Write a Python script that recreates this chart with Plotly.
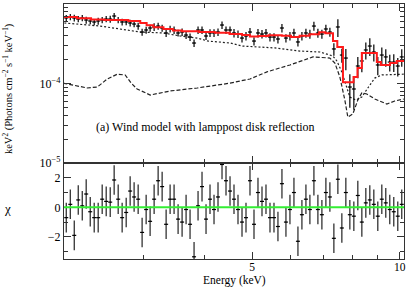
import math
import plotly.graph_objects as go

# ---------------- data ----------------
energy = [2.092, 2.132, 2.172, 2.213, 2.255, 2.297, 2.341, 2.385, 2.430, 2.476,
          2.523, 2.571, 2.619, 2.669, 2.719, 2.771, 2.823, 2.876, 2.931, 2.986,
          3.043, 3.100, 3.159, 3.219, 3.280, 3.342, 3.405, 3.469, 3.535, 3.602,
          3.670, 3.739, 3.810, 3.882, 3.955, 4.030, 4.106, 4.184, 4.263, 4.344,
          4.426, 4.510, 4.595, 4.682, 4.771, 4.861, 4.953, 5.047, 5.142, 5.240,
          5.339, 5.440, 5.543, 5.647, 5.754, 5.863, 5.974, 6.087, 6.202, 6.319,
          6.439, 6.560, 6.685, 6.811, 6.940, 7.071, 7.205, 7.341, 7.480, 7.621,
          7.765, 7.912, 8.062, 8.214, 8.370, 8.528, 8.689, 8.854, 9.021, 9.192,
          9.365, 9.542, 9.723, 9.907, 10.094]

flux = [6.67e-4, 6.86e-4, 6.67e-4, 6.47e-4, 6.67e-4, 6.29e-4, 6.11e-4, 5.94e-4, 6.11e-4, 6.29e-4,
        6.47e-4, 6.47e-4, 7.06e-4, 6.29e-4, 5.94e-4, 5.94e-4, 5.77e-4, 5.60e-4, 5.28e-4, 4.44e-4,
        4.71e-4, 4.99e-4, 5.14e-4, 5.28e-4, 4.99e-4, 4.32e-4, 4.85e-4, 4.71e-4, 4.32e-4, 4.44e-4,
        4.07e-4, 3.84e-4, 3.23e-4, 4.71e-4, 4.71e-4, 3.96e-4, 4.32e-4, 4.32e-4, 4.44e-4, 5.44e-4,
        4.71e-4, 4.71e-4, 4.32e-4, 4.19e-4, 3.73e-4, 3.96e-4, 4.44e-4, 3.42e-4, 4.32e-4, 4.19e-4,
        4.32e-4, 3.84e-4, 3.84e-4, 3.63e-4, 4.99e-4, 3.73e-4, 3.96e-4, 4.32e-4, 3.33e-4, 3.96e-4,
        4.32e-4, 4.19e-4, 5.28e-4, 4.32e-4, 4.19e-4, 4.85e-4, 4.44e-4, 2.72e-4, 5.14e-4, 2.28e-4,
        2.09e-4, 9.03e-5, 8.53e-5, 1.66e-4, 1.92e-4, 2.64e-4, 2.96e-4, 2.49e-4, 1.71e-4, 2.28e-4,
        2.16e-4, 1.86e-4, 1.86e-4, 1.66e-4, 2.16e-4]

flux_err_frac = [0.09, 0.09, 0.10, 0.09, 0.09, 0.10, 0.09, 0.09, 0.10, 0.09,
                 0.09, 0.10, 0.09, 0.09, 0.10, 0.09, 0.10, 0.09, 0.10, 0.10,
                 0.10, 0.10, 0.11, 0.10, 0.10, 0.11, 0.10, 0.11, 0.10, 0.11,
                 0.11, 0.11, 0.11, 0.11, 0.11, 0.11, 0.11, 0.11, 0.11, 0.11,
                 0.11, 0.11, 0.12, 0.11, 0.12, 0.12, 0.12, 0.12, 0.12, 0.12,
                 0.12, 0.12, 0.12, 0.12, 0.12, 0.12, 0.12, 0.13, 0.12, 0.12,
                 0.13, 0.13, 0.13, 0.13, 0.13, 0.13, 0.13, 0.18, 0.25, 0.20,
                 0.30, 0.45, 0.45, 0.30, 0.28, 0.24, 0.25, 0.24, 0.26, 0.24,
                 0.25, 0.24, 0.25, 0.26, 0.25]

chi = [-0.7, 0.2, -1.9, 0.5, 0.1, 0.9, -0.3, -0.7, -0.7, 0.55,
       0.4, 0.35, 1.85, 0.55, -0.7, -0.35, 1.1, 0.7, 0.55, -1.7,
       -0.15, -0.95, 0.55, 1.8, 1.4, -1.15, 0.55, 0.55, -0.8, -1.0,
       -0.15, -1.15, -3.35, 0.1, 1.4, -0.8, 0.55, -0.15, 0.7, 2.9,
       1.8, 1.1, 0.55, -0.15, -1.0, -0.7, 1.8, -1.15, 1.0, 0.4,
       0.55, -0.7, -0.7, -1.3, 1.6, -1.0, -0.15, 1.0, -2.3, -0.5,
       0.55, -0.15, 1.8, -0.15, -0.5, 1.0, 0.7, -2.1, 1.9, -1.4,
       1.0, -0.5, -0.6, 0.8, -1.0, 0.3, 0.5, 0.2, -0.6, 0.55,
       0.3, -0.15, -0.3, -0.6, 0.2]

# total model (histogram steps)
model_energy = [2.07, 2.20, 2.35, 2.50, 2.65, 2.80, 2.96, 3.05, 3.15, 3.30,
                3.45, 3.60, 3.90, 4.20, 4.50, 4.77, 4.95, 5.15, 5.40, 5.75,
                6.00, 6.25, 6.55, 6.85, 7.05, 7.31, 7.46, 7.66, 8.05, 8.20,
                8.37, 8.98, 9.15, 9.55, 9.86, 10.2]
model_flux = [6.86e-4, 6.60e-4, 6.40e-4, 6.29e-4, 6.29e-4, 6.10e-4, 5.77e-4, 5.40e-4, 5.10e-4, 4.85e-4,
              4.65e-4, 4.55e-4, 4.45e-4, 4.35e-4, 4.20e-4, 4.07e-4, 3.90e-4, 3.95e-4, 4.05e-4, 4.00e-4,
              3.85e-4, 4.00e-4, 4.15e-4, 4.40e-4, 4.30e-4, 3.42e-4, 2.88e-4, 1.04e-4, 1.21e-4, 1.57e-4,
              2.42e-4, 1.86e-4, 1.71e-4, 1.81e-4, 1.92e-4, 1.92e-4]

# absorbed power-law component
pl_energy = [2.073, 2.454, 2.959, 3.296, 3.569, 3.866, 4.069, 4.511, 4.772, 5.363,
             5.568, 6.261, 6.875, 7.305, 7.444, 7.620, 7.764, 7.911, 8.137, 8.368,
             8.608, 8.894, 9.191, 10.19]
pl_flux = [5.77e-4, 5.28e-4, 4.44e-4, 4.32e-4, 3.96e-4, 3.73e-4, 3.42e-4, 3.23e-4, 2.96e-4, 2.80e-4,
           2.80e-4, 2.56e-4, 2.49e-4, 2.22e-4, 1.92e-4, 1.40e-4, 9.57e-5, 6.76e-5, 6.20e-5, 6.76e-5,
           8.78e-5, 1.17e-4, 1.28e-4, 1.31e-4]

# disk reflection component
refl_energy = [2.063, 2.163, 2.309, 2.420, 2.536, 2.657, 2.758, 2.837, 2.917, 3.101,
               3.406, 3.866, 4.511, 4.953, 5.363, 5.701, 5.974, 6.653, 7.203, 7.375,
               7.549, 7.728, 7.837, 8.023, 8.213, 8.368, 8.567, 8.894, 9.410, 9.768, 10.19]
refl_flux = [1.01e-4, 9.57e-5, 8.78e-5, 9.03e-5, 1.14e-4, 1.31e-4, 1.28e-4, 1.01e-4, 8.53e-5, 7.16e-5,
             8.05e-5, 8.78e-5, 1.01e-4, 1.14e-4, 1.40e-4, 1.57e-4, 1.71e-4, 2.16e-4, 2.09e-4, 1.81e-4,
             1.21e-4, 6.20e-5, 3.79e-5, 4.13e-5, 6.20e-5, 7.60e-5, 7.38e-5, 6.38e-5, 5.52e-5, 6.02e-5, 6.38e-5]

x_major = [5, 10]
x_major_text = ["5", "10"]
x_minor = [3, 4, 6, 7, 8, 9]
y_top_major = [1e-5, 1e-4, 1e-3]
y_top_text = ["10<sup>\u22125</sup>", "10<sup>\u22124</sup>", "10<sup>\u22123</sup>"]
y_top_minor = [2e-5, 3e-5, 4e-5, 5e-5, 6e-5, 7e-5, 8e-5, 9e-5,
               2e-4, 3e-4, 4e-4, 5e-4, 6e-4, 7e-4, 8e-4, 9e-4]
y_bot_major = [-2, 0, 2]
y_bot_text = ["\u22122", "0", "2"]
y_bot_minor = [-3, -1, 1, 3]

# ---------------- figure ----------------
FONT = "Liberation Serif"
AX = "#333333"
split = 0.3765

flux_err = [f * e for f, e in zip(flux, flux_err_frac)]

fig = go.Figure()

fig.add_trace(go.Scatter(x=pl_energy, y=pl_flux, mode="lines", xaxis="x2", yaxis="y2",
                         line=dict(color="#222222", width=1.2, dash="2px,2px")))
fig.add_trace(go.Scatter(x=refl_energy, y=refl_flux, mode="lines", xaxis="x2", yaxis="y2",
                         line=dict(color="#222222", width=1.2, dash="4px,2px")))
fig.add_trace(go.Scatter(x=energy, y=flux, mode="markers", xaxis="x2", yaxis="y2",
                         marker=dict(size=1, color="black"),
                         error_y=dict(type="data", array=flux_err, width=0, thickness=1.2, color="black"),
                         error_x=dict(type="percent", value=0.94, width=0, thickness=1.2, color="black")))
fig.add_trace(go.Scatter(x=model_energy, y=model_flux, mode="lines", xaxis="x2", yaxis="y2",
                         line=dict(color="#ff1a1a", width=2, shape="hv")))

fig.add_trace(go.Scatter(x=energy, y=chi, mode="markers", xaxis="x", yaxis="y",
                         marker=dict(size=1, color="black"),
                         error_y=dict(type="constant", value=1, width=0, thickness=1.2, color="#222222"),
                         error_x=dict(type="percent", value=0.94, width=0, thickness=1.2, color="black")))

fig.add_hline(y=0, line=dict(color="#33ee33", width=2), xref="x", yref="y", layer="above")

xr = [math.log10(2.07), math.log10(10.2)]
common_x = dict(type="log", range=xr, showgrid=False, zeroline=False, showline=True, automargin=False,
                linecolor=AX, linewidth=1.2, mirror="ticks", ticks="inside",
                tickvals=x_major, ticktext=x_major_text, ticklen=7, tickwidth=1, tickcolor=AX,
                minor=dict(tickvals=x_minor, ticklen=4, tickwidth=1, tickcolor=AX, ticks="inside"))

fig.update_layout(
    width=407, height=288,
    margin=dict(l=64, r=3, t=4, b=29),
    paper_bgcolor="white", plot_bgcolor="white",
    showlegend=False,
    font=dict(family=FONT, size=12, color="black"),
    xaxis=dict(common_x, anchor="y", domain=[0, 1], tickfont=dict(size=11.5), ticklabelstandoff=-3),
    xaxis2=dict(common_x, anchor="y2", matches="x", showticklabels=False),
    yaxis=dict(domain=[0, split], range=[-3.5, 3.0], showgrid=False, zeroline=False, automargin=False,
               showline=True, linecolor=AX, linewidth=1.2, mirror="ticks", ticks="inside",
               tickvals=y_bot_major, ticktext=y_bot_text, ticklen=7, tickwidth=1, tickcolor=AX,
               minor=dict(tickvals=y_bot_minor, ticklen=4, tickwidth=1, tickcolor=AX, ticks="inside"),
               tickfont=dict(size=12)),
    yaxis2=dict(type="log", domain=[split, 1], range=[-5, -3], showgrid=False, zeroline=False,
                automargin=False,
                showline=True, linecolor=AX, linewidth=1.2, mirror="ticks", ticks="inside",
                tickvals=y_top_major, ticktext=y_top_text, ticklen=7, tickwidth=1, tickcolor=AX,
                minor=dict(tickvals=y_top_minor, ticklen=4, tickwidth=1, tickcolor=AX, ticks="inside"),
                tickfont=dict(size=12)),
)

fig.add_annotation(text="(a) Wind model with lamppost disk reflection",
                   xref="paper", yref="paper", x=0.415, y=0.518,
                   showarrow=False, font=dict(size=12, family=FONT, color="black"),
                   xanchor="center", yanchor="middle")
fig.add_annotation(text="keV<sup>2</sup> (Photons cm<sup>\u22122</sup> s<sup>\u22121</sup> keV<sup>\u22121</sup>)",
                   xref="paper", yref="paper", x=-0.165, y=0.67, textangle=-90,
                   showarrow=False, font=dict(size=10.5, family=FONT, color="black"),
                   xanchor="center", yanchor="middle")
fig.add_annotation(text="\u03c7", xref="paper", yref="paper", x=-0.165, y=0.2,
                   showarrow=False, font=dict(size=13, family=FONT, color="black"),
                   xanchor="center", yanchor="middle")
fig.add_annotation(text="Energy (keV)", xref="paper", yref="paper", x=0.5, y=-0.112,
                   showarrow=False, font=dict(size=11.5, family=FONT, color="black"),
                   xanchor="center", yanchor="bottom", borderpad=0)

fig.write_html("out.html", config={"displayModeBar": False},
               post_script="document.body.style.margin='0px';")
